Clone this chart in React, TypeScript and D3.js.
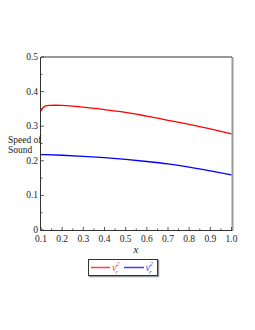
import React from 'react';
import * as d3 from 'd3';

const xs = [0.1, 0.105, 0.11, 0.12, 0.14, 0.17, 0.2, 0.3, 0.4, 0.5, 0.6, 0.7, 0.8, 0.9, 1.0];
const redValues = [0.343, 0.350, 0.354, 0.358, 0.360, 0.3605, 0.360, 0.355, 0.348, 0.340, 0.329, 0.317, 0.305, 0.292, 0.278];
const blueXs = [0.1, 0.2, 0.3, 0.4, 0.5, 0.6, 0.7, 0.8, 0.9, 1.0];
const blueValues = [0.218, 0.216, 0.213, 0.209, 0.204, 0.198, 0.191, 0.182, 0.171, 0.159];
const xTicks = [0.1, 0.2, 0.3, 0.4, 0.5, 0.6, 0.7, 0.8, 0.9, 1.0];
const yTicks = [0, 0.1, 0.2, 0.3, 0.4, 0.5];

const FONT = '"Liberation Serif", "DejaVu Serif", serif';

export default function App() {
  const x = d3.scaleLinear().domain([0.1, 1.0]).range([41, 231.5]);
  const y = d3.scaleLinear().domain([0, 0.5]).range([230, 57]);

  const line = d3.line<[number, number]>()
    .x(d => x(d[0]))
    .y(d => y(d[1]))
    .curve(d3.curveMonotoneX);

  const red = line(xs.map((v, i) => [v, redValues[i]]) as [number, number][]) || '';
  const blue = line(blueXs.map((v, i) => [v, blueValues[i]]) as [number, number][]) || '';

  const xMinor = d3.range(0.1, 1.0001, 0.05);
  const yMinor = d3.range(0, 0.5001, 0.05);

  return (
    <svg width={255} height={330} style={{ position: 'absolute', left: 0, top: 0 }}>
      <rect width={255} height={330} fill="#fff" />
      {/* frame */}
      <line x1={232.5} y1={57} x2={232.5} y2={231} stroke="#999" strokeWidth={2} />
      <line x1={41} y1={57} x2={232} y2={57} stroke="#333" strokeWidth={1} />
      <line x1={40.5} y1={57} x2={40.5} y2={230.5} stroke="#333" strokeWidth={1} />
      <line x1={40.5} y1={230.5} x2={232} y2={230.5} stroke="#333" strokeWidth={1} />

      {/* ticks */}
      {xMinor.map((t, i) => (
        <line key={'xm' + i} x1={x(t)} x2={x(t)} y1={230} y2={i % 2 === 0 ? 227 : 228.5} stroke="#333" strokeWidth={0.8} />
      ))}
      {yMinor.map((t, i) => (
        <line key={'ym' + i} x1={41} x2={i % 2 === 0 ? 44 : 42.5} y1={y(t)} y2={y(t)} stroke="#333" strokeWidth={0.8} />
      ))}
      {xTicks.map(t => (
        <text key={'xt' + t} x={x(t)} y={242} fontFamily={FONT} fontSize={9.5} textAnchor="middle" fill="#222">
          {t.toFixed(1)}
        </text>
      ))}
      {yTicks.map(t => (
        <text key={'yt' + t} x={38} y={y(t) + 3} fontFamily={FONT} fontSize={9.5} textAnchor="end" fill="#222">
          {t === 0 ? '0' : t.toFixed(1)}
        </text>
      ))}

      {/* curves */}
      <path d={red} fill="none" stroke="#ff0000" strokeWidth={1.3} />
      <path d={blue} fill="none" stroke="#0000ff" strokeWidth={1.3} />

      {/* axis labels */}
      <text x={8} y={143} fontFamily={FONT} fontSize={9.5} fill="#222">Speed of</text>
      <text x={8} y={153} fontFamily={FONT} fontSize={9.5} fill="#222">Sound</text>
      <text x={136} y={253} fontFamily={FONT} fontSize={11} fontStyle="italic" textAnchor="middle" fill="#222">x</text>

      {/* legend */}
      <rect x={89.5} y={260.5} width={69} height={16} fill="none" stroke="#999" strokeWidth={1.5} />
      <rect x={88.5} y={259.5} width={69} height={16} fill="#fff" stroke="#333" strokeWidth={1} />
      <line x1={91} x2={110} y1={267.5} y2={267.5} stroke="#ff4040" strokeWidth={1.5} />
      <text x={112} y={271} fontFamily={FONT} fontSize={10} fontStyle="italic" fill="#ff4040">
        v
        <tspan dx={-0.5} dy={-5} fontSize={7}>2</tspan>
        <tspan dx={-4} dy={7.5} fontSize={7}>r</tspan>
      </text>
      <line x1={124} x2={144} y1={267.5} y2={267.5} stroke="#4040ff" strokeWidth={1.5} />
      <text x={145.5} y={271} fontFamily={FONT} fontSize={10} fontStyle="italic" fill="#4040ff">
        v
        <tspan dx={-0.5} dy={-5} fontSize={7}>2</tspan>
        <tspan dx={-4} dy={7.5} fontSize={7}>r</tspan>
      </text>
    </svg>
  );
}
